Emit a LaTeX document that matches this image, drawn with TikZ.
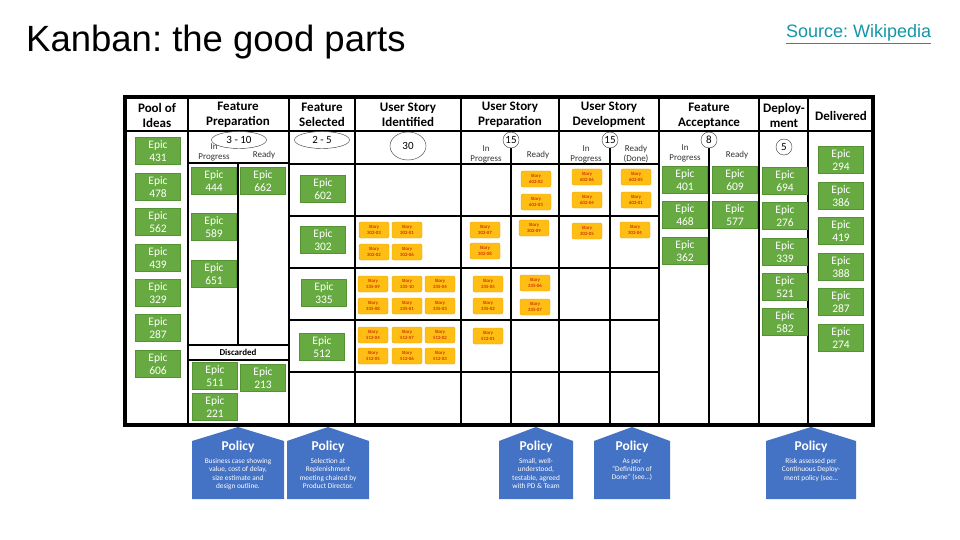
\documentclass[tikz,border=0pt]{standalone}
\usepackage{fontspec}
\setmainfont{Carlito}
\newfontfamily\titlefont{Liberation Sans}
\usetikzlibrary{shapes.geometric}
\frenchspacing

\definecolor{epicgreen}{RGB}{104,170,66}
\definecolor{epicedge}{RGB}{84,146,52}
\definecolor{storyfill}{RGB}{255,190,20}
\definecolor{storyedge}{RGB}{232,160,10}
\definecolor{policyblue}{RGB}{68,114,196}
\definecolor{linkteal}{RGB}{20,150,168}

\tikzset{
	epic/.style={draw=epicedge, fill=epicgreen, text=white, minimum width=45pt, minimum height=27pt, inner sep=0pt, align=center, font=\fontsize{11.5}{13}\selectfont},
	story/.style={draw=storyedge, fill=storyfill, rounded corners=2pt, text=red!75!black, minimum width=30pt, minimum height=16pt, inner sep=0pt, align=center, font=\fontsize{4.8}{5.5}\selectfont},
	colhead/.style={align=center, font=\bfseries\fontsize{13}{15}\selectfont},
	sublabel/.style={align=center, text=black!80, font=\fontsize{9}{10}\selectfont},
	wip/.style={draw=black!80, fill=white, ellipse, inner sep=0pt, font=\fontsize{11}{12}\selectfont},
	boardline/.style={draw=black, line width=1.4pt},
	laneline/.style={draw=black, line width=2.2pt},
	policy/.style={fill=policyblue, draw=none},
	policytext/.style={text=white, align=center, font=\fontsize{7.3}{8.3}\selectfont}
}

\begin{document}
\begin{tikzpicture}[x=1pt, y=-1pt]
		\useasboundingbox (0,0) rectangle (960,540);
		% title
		\node[anchor=base west, inner sep=0pt] (title) at (26,52) {\titlefont\fontsize{36.5}{40}\selectfont Kanban: the good parts};
		\node[anchor=base west, inner sep=0pt, text=linkteal] (source) at (786,38) {\titlefont\fontsize{18}{20}\selectfont\underline{Source: Wikipedia}};
		% board grid
		\draw[boardline] (125,131) -- (873,131);
		\draw[boardline] (188,97) -- (188,425);
		\draw[boardline] (289,97) -- (289,163);
		\draw[laneline] (289,163) -- (289,425);
		\draw[boardline] (355,97) -- (355,425);
		\draw[boardline] (461,97) -- (461,425);
		\draw[boardline] (559,97) -- (559,425);
		\draw[boardline] (659,97) -- (659,163);
		\draw[laneline] (659,163) -- (659,425);
		\draw[boardline] (759,97) -- (759,425);
		\draw[boardline] (808,97) -- (808,425);
		\draw[boardline] (188,163) -- (289,163);
		\draw[boardline] (238,163) -- (238,345);
		\draw[boardline] (188,345) -- (289,345);
		\draw[boardline] (188,360) -- (289,360);
		\draw[laneline] (289,164) -- (659,164);
		\draw[laneline] (289,216) -- (659,216);
		\draw[laneline] (289,268) -- (659,268);
		\draw[laneline] (289,320) -- (659,320);
		\draw[laneline] (289,372) -- (659,372);
		\draw[boardline] (511,146) -- (511,425);
		\draw[boardline] (610,146) -- (610,425);
		\draw[boardline] (709,146) -- (709,425);
		\draw[draw=black, line width=4pt] (125,97) rectangle (873,425);
		% column headers
		\node[colhead] (hpool) at (157,115) {Pool of\\Ideas};
		\node[colhead] (hprep) at (238,115) {Feature\\Preparation};
		\node[colhead] (hsel) at (322,115) {Feature\\Selected};
		\node[colhead] (hident) at (408,115) {User Story\\Identified};
		\node[colhead] (hsprep) at (510,115) {User Story\\Preparation};
		\node[colhead] (hdev) at (609,115) {User Story\\Development};
		\node[colhead] (hacc) at (709,116) {Feature\\Acceptance};
		\node[colhead] (hdep) at (784,115) {Deploy-\\ment};
		\node[colhead] (hdone) at (841,116) {Delivered};
		% sub columns and limits
		\node[sublabel] (prepin) at (214,152) {In\\Progress};
		\node[sublabel] (prepready) at (264,155) {Ready};
		\node[wip, minimum width=55pt, minimum height=17pt] (wipprep) at (239,140) {3 - 10};
		\node[wip, minimum width=55pt, minimum height=17pt] (wipsel) at (322,140) {2 - 5};
		\node[wip, minimum width=36pt, minimum height=28pt] (wipident) at (408,146) {30};
		\node[sublabel] (sprepin) at (486,154) {In\\Progress};
		\node[sublabel] (spreready) at (538,155) {Ready};
		\node[sublabel] (devin) at (586,154) {In\\Progress};
		\node[sublabel] (devdone) at (636,154) {Ready\\(Done)};
		\node[sublabel] (accin) at (685,153) {In\\Progress};
		\node[sublabel] (accready) at (737,155) {Ready};
		\node[wip, circle, minimum size=16pt] (wipsprep) at (511,140) {15};
		\node[wip, circle, minimum size=16pt] (wipdev) at (610,140) {15};
		\node[wip, circle, minimum size=16pt] (wipacc) at (709,140) {8};
		\node[wip, circle, minimum size=16pt] (wipdep) at (784,147) {5};
		\node[font=\bfseries\fontsize{9}{10}\selectfont] (discarded) at (238,352.5) {Discarded};
		% pool of ideas
		\node[epic] (e431) at (158,151) {Epic\\431};
		\node[epic] (e478) at (158,187) {Epic\\478};
		\node[epic] (e562) at (158,222) {Epic\\562};
		\node[epic] (e439) at (158,258) {Epic\\439};
		\node[epic] (e329) at (158,293) {Epic\\329};
		\node[epic] (e287) at (158,328) {Epic\\287};
		\node[epic] (e606) at (158,364) {Epic\\606};
		% feature preparation
		\node[epic] (e444) at (214,181) {Epic\\444};
		\node[epic] (e589) at (214,227) {Epic\\589};
		\node[epic] (e651) at (214,274) {Epic\\651};
		\node[epic] (e662) at (263,181) {Epic\\662};
		\node[epic] (e511) at (215,376) {Epic\\511};
		\node[epic] (e213) at (263,378) {Epic\\213};
		\node[epic] (e221) at (215,407) {Epic\\221};
		% feature selected
		\node[epic] (e602) at (323,189) {Epic\\602};
		\node[epic] (e302) at (323,240) {Epic\\302};
		\node[epic] (e335) at (324,293) {Epic\\335};
		\node[epic] (e512) at (322,347) {Epic\\512};
		% stories of 602
		\node[story] (s602a) at (536,179) {Story\\602-02};
		\node[story] (s602b) at (536,202) {Story\\602-03};
		\node[story] (s602c) at (587,177) {Story\\602-06};
		\node[story] (s602d) at (587,200) {Story\\602-04};
		\node[story] (s602e) at (636,177) {Story\\602-05};
		\node[story] (s602f) at (636,200) {Story\\602-01};
		% stories of 302
		\node[story] (s302a) at (374,230) {Story\\302-03};
		\node[story] (s302b) at (407,230) {Story\\302-01};
		\node[story] (s302c) at (374,252) {Story\\302-02};
		\node[story] (s302d) at (407,252) {Story\\302-06};
		\node[story] (s302e) at (485,230) {Story\\302-07};
		\node[story] (s302f) at (485,251) {Story\\302-08};
		\node[story] (s302g) at (534,228) {Story\\302-09};
		\node[story] (s302h) at (587,231) {Story\\302-05};
		\node[story] (s302i) at (635,230) {Story\\302-04};
		% stories of 335
		\node[story] (s335a) at (373,284) {Story\\335-09};
		\node[story] (s335b) at (407,284) {Story\\335-10};
		\node[story] (s335c) at (440,284) {Story\\335-04};
		\node[story] (s335d) at (373,306) {Story\\335-08};
		\node[story] (s335e) at (407,306) {Story\\335-01};
		\node[story] (s335f) at (440,306) {Story\\335-03};
		\node[story] (s335g) at (488,284) {Story\\335-05};
		\node[story] (s335h) at (488,306) {Story\\335-02};
		\node[story] (s335i) at (535,283) {Story\\335-06};
		\node[story] (s335j) at (535,307) {Story\\335-07};
		% stories of 512
		\node[story] (s512a) at (373,335) {Story\\512-04};
		\node[story] (s512b) at (407,335) {Story\\512-07};
		\node[story] (s512c) at (440,335) {Story\\512-02};
		\node[story] (s512d) at (373,356) {Story\\512-05};
		\node[story] (s512e) at (407,356) {Story\\512-06};
		\node[story] (s512f) at (440,356) {Story\\512-03};
		\node[story] (s512g) at (488,336) {Story\\512-01};
		% feature acceptance
		\node[epic] (e401) at (685,180) {Epic\\401};
		\node[epic] (e468) at (685,215) {Epic\\468};
		\node[epic] (e362) at (685,251) {Epic\\362};
		\node[epic] (e609) at (735,180) {Epic\\609};
		\node[epic] (e577) at (735,215) {Epic\\577};
		% deployment
		\node[epic] (e694) at (785,181) {Epic\\694};
		\node[epic] (e276) at (785,216) {Epic\\276};
		\node[epic] (e339) at (785,252) {Epic\\339};
		\node[epic] (e521) at (785,287) {Epic\\521};
		\node[epic] (e582) at (785,322) {Epic\\582};
		% delivered
		\node[epic] (e294) at (841,160) {Epic\\294};
		\node[epic] (e386) at (841,196) {Epic\\386};
		\node[epic] (e419) at (841,231) {Epic\\419};
		\node[epic] (e388) at (841,267) {Epic\\388};
		\node[epic] (e287d) at (841,302) {Epic\\287};
		\node[epic] (e274) at (841,338) {Epic\\274};
		% policies
		\fill[policy] (192,441) -- (238,427) -- (284,441) -- (284,499) -- (192,499) -- cycle;
		\fill[policy] (287,441) -- (328,427) -- (369,441) -- (369,499) -- (287,499) -- cycle;
		\fill[policy] (499,441) -- (536,427) -- (573,441) -- (573,499) -- (499,499) -- cycle;
		\fill[policy] (594,441) -- (632,427) -- (670,441) -- (670,499) -- (594,499) -- cycle;
		\fill[policy] (766,441) -- (811,427) -- (856,441) -- (856,499) -- (766,499) -- cycle;
		\node[policytext] (polprep) at (238,447) {\textbf{\fontsize{13.5}{14}\selectfont Policy}};
		\node[policytext] (polsel) at (328,447) {\textbf{\fontsize{13.5}{14}\selectfont Policy}};
		\node[policytext] (polsprep) at (536,447) {\textbf{\fontsize{13.5}{14}\selectfont Policy}};
		\node[policytext] (poldev) at (632,447) {\textbf{\fontsize{13.5}{14}\selectfont Policy}};
		\node[policytext] (poldep) at (811,447) {\textbf{\fontsize{13.5}{14}\selectfont Policy}};
		\node[policytext, anchor=north] (txtprep) at (238,455) {Business case showing\\value, cost of delay,\\size estimate and\\design outline.};
		\node[policytext, anchor=north] (txtsel) at (328,455) {Selection at\\Replenishment\\meeting chaired by\\Product Director.};
		\node[policytext, anchor=north] (txtsprep) at (536,455) {Small, well-\\understood,\\testable, agreed\\with PD \& Team};
		\node[policytext, anchor=north] (txtdev) at (632,455) {As per\\“Definition of\\Done” (see…)};
		\node[policytext, anchor=north] (txtdep) at (811,455) {Risk assessed per\\Continuous Deploy-\\ment policy (see…};
	\end{tikzpicture}
\end{document}
